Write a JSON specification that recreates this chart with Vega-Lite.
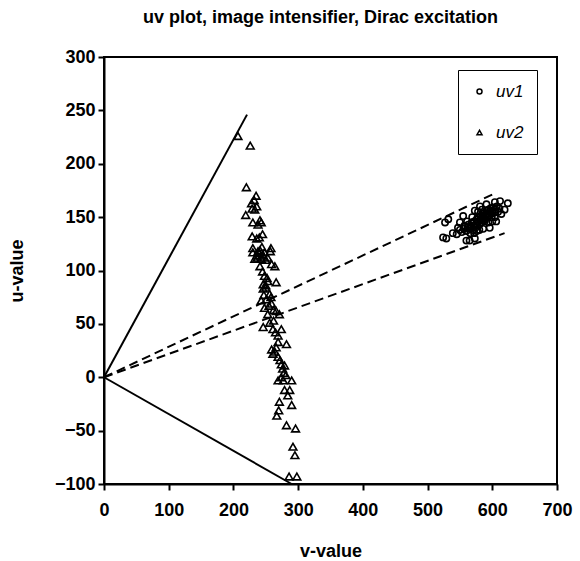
{
  "$schema": "https://vega.github.io/schema/vega-lite/v6.json",
  "width": 453,
  "height": 427,
  "autosize": {"type": "none"},
  "padding": {"left": 104, "top": 57, "right": 23, "bottom": 77},
  "background": "white",
  "config": {
    "view": {"stroke": "black", "strokeWidth": 2},
    "font": "Liberation Sans",
    "axis": {
      "grid": false,
      "domainColor": "black",
      "domainWidth": 2,
      "tickColor": "black",
      "tickWidth": 2,
      "tickSize": 6,
      "labelFont": "Liberation Sans",
      "labelFontSize": 18,
      "labelFontWeight": "bold",
      "labelColor": "black",
      "titleFont": "Liberation Sans",
      "titleFontSize": 18,
      "titleFontWeight": "bold",
      "titleColor": "black"
    },
    "legend": {
      "orient": "none",
      "legendX": 354,
      "legendY": 13,
      "padding": 13,
      "rowPadding": 23,
      "strokeColor": "black",
      "fillColor": "white",
      "symbolSize": 25,
      "symbolStrokeColor": "black",
      "symbolStrokeWidth": 1.5,
      "symbolFillColor": "transparent",
      "labelFont": "Liberation Sans",
      "labelFontSize": 17,
      "labelFontStyle": "italic",
      "labelColor": "black",
      "labelOffset": 8
    }
  },
  "title": {
    "text": "uv plot, image intensifier, Dirac excitation",
    "font": "Liberation Sans",
    "fontSize": 18,
    "fontWeight": "bold",
    "color": "black",
    "anchor": "middle",
    "dx": -10,
    "offset": 21
  },
  "datasets": {
    "solid": [
      {"id": "a", "v": 0, "u": 0},
      {"id": "a", "v": 221, "u": 246},
      {"id": "b", "v": 0, "u": 0},
      {"id": "b", "v": 290, "u": -100}
    ],
    "dashed": [
      {"id": "c", "v": 0, "u": 0},
      {"id": "c", "v": 603, "u": 172},
      {"id": "d", "v": 0, "u": 0},
      {"id": "d", "v": 619, "u": 135}
    ],
    "points": [
      {"series": "uv1", "v": 527, "u": 145},
      {"series": "uv1", "v": 532, "u": 148},
      {"series": "uv1", "v": 524, "u": 131},
      {"series": "uv1", "v": 529, "u": 130},
      {"series": "uv1", "v": 539, "u": 135},
      {"series": "uv1", "v": 545, "u": 134},
      {"series": "uv1", "v": 560, "u": 128},
      {"series": "uv1", "v": 565, "u": 128},
      {"series": "uv1", "v": 573, "u": 130},
      {"series": "uv1", "v": 624, "u": 163},
      {"series": "uv1", "v": 612, "u": 165},
      {"series": "uv1", "v": 604, "u": 164},
      {"series": "uv1", "v": 591, "u": 162},
      {"series": "uv1", "v": 581, "u": 160},
      {"series": "uv1", "v": 573, "u": 156},
      {"series": "uv1", "v": 619, "u": 157},
      {"series": "uv1", "v": 614, "u": 153},
      {"series": "uv1", "v": 606, "u": 146},
      {"series": "uv1", "v": 555, "u": 151},
      {"series": "uv1", "v": 550, "u": 145},
      {"series": "uv1", "v": 547, "u": 140},
      {"series": "uv1", "v": 557, "u": 142},
      {"series": "uv1", "v": 576, "u": 137},
      {"series": "uv1", "v": 586, "u": 139},
      {"series": "uv1", "v": 596, "u": 140},
      {"series": "uv1", "v": 588, "u": 146},
      {"series": "uv1", "v": 599, "u": 150},
      {"series": "uv1", "v": 550, "u": 138},
      {"series": "uv1", "v": 553, "u": 136},
      {"series": "uv1", "v": 556, "u": 139},
      {"series": "uv1", "v": 558, "u": 141},
      {"series": "uv1", "v": 560, "u": 137},
      {"series": "uv1", "v": 562, "u": 140},
      {"series": "uv1", "v": 563, "u": 143},
      {"series": "uv1", "v": 565, "u": 139},
      {"series": "uv1", "v": 567, "u": 141},
      {"series": "uv1", "v": 568, "u": 145},
      {"series": "uv1", "v": 570, "u": 138},
      {"series": "uv1", "v": 571, "u": 142},
      {"series": "uv1", "v": 572, "u": 146},
      {"series": "uv1", "v": 574, "u": 140},
      {"series": "uv1", "v": 575, "u": 144},
      {"series": "uv1", "v": 576, "u": 148},
      {"series": "uv1", "v": 577, "u": 142},
      {"series": "uv1", "v": 578, "u": 146},
      {"series": "uv1", "v": 579, "u": 150},
      {"series": "uv1", "v": 580, "u": 143},
      {"series": "uv1", "v": 581, "u": 147},
      {"series": "uv1", "v": 582, "u": 151},
      {"series": "uv1", "v": 583, "u": 145},
      {"series": "uv1", "v": 584, "u": 149},
      {"series": "uv1", "v": 585, "u": 153},
      {"series": "uv1", "v": 586, "u": 147},
      {"series": "uv1", "v": 587, "u": 150},
      {"series": "uv1", "v": 588, "u": 154},
      {"series": "uv1", "v": 589, "u": 148},
      {"series": "uv1", "v": 590, "u": 152},
      {"series": "uv1", "v": 591, "u": 156},
      {"series": "uv1", "v": 592, "u": 150},
      {"series": "uv1", "v": 593, "u": 153},
      {"series": "uv1", "v": 594, "u": 157},
      {"series": "uv1", "v": 595, "u": 151},
      {"series": "uv1", "v": 596, "u": 155},
      {"series": "uv1", "v": 597, "u": 158},
      {"series": "uv1", "v": 598, "u": 153},
      {"series": "uv1", "v": 600, "u": 156},
      {"series": "uv1", "v": 601, "u": 159},
      {"series": "uv1", "v": 603, "u": 154},
      {"series": "uv1", "v": 605, "u": 157},
      {"series": "uv1", "v": 607, "u": 160},
      {"series": "uv1", "v": 609, "u": 155},
      {"series": "uv1", "v": 611, "u": 158},
      {"series": "uv1", "v": 566, "u": 135},
      {"series": "uv1", "v": 569, "u": 150},
      {"series": "uv1", "v": 561, "u": 146},
      {"series": "uv1", "v": 578, "u": 155},
      {"series": "uv1", "v": 584, "u": 157},
      {"series": "uv1", "v": 600, "u": 146},
      {"series": "uv1", "v": 594, "u": 145},
      {"series": "uv1", "v": 604, "u": 150},
      {"series": "uv1", "v": 580, "u": 138},
      {"series": "uv1", "v": 572, "u": 135},
      {"series": "uv2", "v": 207, "u": 226},
      {"series": "uv2", "v": 226, "u": 217},
      {"series": "uv2", "v": 220, "u": 178},
      {"series": "uv2", "v": 235, "u": 170},
      {"series": "uv2", "v": 228, "u": 163},
      {"series": "uv2", "v": 232, "u": 166},
      {"series": "uv2", "v": 236, "u": 160},
      {"series": "uv2", "v": 229, "u": 158},
      {"series": "uv2", "v": 233, "u": 157},
      {"series": "uv2", "v": 219, "u": 152},
      {"series": "uv2", "v": 230, "u": 145},
      {"series": "uv2", "v": 241, "u": 147},
      {"series": "uv2", "v": 243, "u": 145},
      {"series": "uv2", "v": 238, "u": 143},
      {"series": "uv2", "v": 229, "u": 132},
      {"series": "uv2", "v": 240, "u": 131},
      {"series": "uv2", "v": 245, "u": 134},
      {"series": "uv2", "v": 236, "u": 130},
      {"series": "uv2", "v": 230, "u": 121},
      {"series": "uv2", "v": 244, "u": 122},
      {"series": "uv2", "v": 258, "u": 121},
      {"series": "uv2", "v": 241, "u": 119},
      {"series": "uv2", "v": 230, "u": 117},
      {"series": "uv2", "v": 238, "u": 118},
      {"series": "uv2", "v": 248, "u": 117},
      {"series": "uv2", "v": 257, "u": 118},
      {"series": "uv2", "v": 233, "u": 111},
      {"series": "uv2", "v": 243, "u": 111},
      {"series": "uv2", "v": 253, "u": 112},
      {"series": "uv2", "v": 236, "u": 114},
      {"series": "uv2", "v": 245, "u": 115},
      {"series": "uv2", "v": 241, "u": 104},
      {"series": "uv2", "v": 259, "u": 106},
      {"series": "uv2", "v": 264, "u": 104},
      {"series": "uv2", "v": 237, "u": 112},
      {"series": "uv2", "v": 240, "u": 116},
      {"series": "uv2", "v": 247, "u": 113},
      {"series": "uv2", "v": 250, "u": 110},
      {"series": "uv2", "v": 248, "u": 95},
      {"series": "uv2", "v": 252, "u": 93},
      {"series": "uv2", "v": 245, "u": 99},
      {"series": "uv2", "v": 250, "u": 86},
      {"series": "uv2", "v": 246, "u": 87},
      {"series": "uv2", "v": 253, "u": 90},
      {"series": "uv2", "v": 266, "u": 89},
      {"series": "uv2", "v": 250, "u": 84},
      {"series": "uv2", "v": 246, "u": 83},
      {"series": "uv2", "v": 256, "u": 78},
      {"series": "uv2", "v": 251, "u": 73},
      {"series": "uv2", "v": 243, "u": 72},
      {"series": "uv2", "v": 259, "u": 69},
      {"series": "uv2", "v": 248, "u": 65},
      {"series": "uv2", "v": 266, "u": 62},
      {"series": "uv2", "v": 253, "u": 59},
      {"series": "uv2", "v": 271, "u": 59},
      {"series": "uv2", "v": 262, "u": 63},
      {"series": "uv2", "v": 255, "u": 67},
      {"series": "uv2", "v": 258, "u": 75},
      {"series": "uv2", "v": 247, "u": 77},
      {"series": "uv2", "v": 246, "u": 47},
      {"series": "uv2", "v": 261, "u": 45},
      {"series": "uv2", "v": 274, "u": 45},
      {"series": "uv2", "v": 256, "u": 51},
      {"series": "uv2", "v": 262, "u": 53},
      {"series": "uv2", "v": 269, "u": 39},
      {"series": "uv2", "v": 282, "u": 31},
      {"series": "uv2", "v": 269, "u": 33},
      {"series": "uv2", "v": 265, "u": 42},
      {"series": "uv2", "v": 259, "u": 26},
      {"series": "uv2", "v": 261, "u": 22},
      {"series": "uv2", "v": 269, "u": 19},
      {"series": "uv2", "v": 274, "u": 12},
      {"series": "uv2", "v": 279, "u": 11},
      {"series": "uv2", "v": 264, "u": 24},
      {"series": "uv2", "v": 272, "u": 16},
      {"series": "uv2", "v": 276, "u": 8},
      {"series": "uv2", "v": 266, "u": 28},
      {"series": "uv2", "v": 278, "u": 4},
      {"series": "uv2", "v": 281, "u": 2},
      {"series": "uv2", "v": 274, "u": 0},
      {"series": "uv2", "v": 269, "u": -3},
      {"series": "uv2", "v": 277, "u": -3},
      {"series": "uv2", "v": 290, "u": -3},
      {"series": "uv2", "v": 279, "u": -12},
      {"series": "uv2", "v": 287, "u": -12},
      {"series": "uv2", "v": 284, "u": -17},
      {"series": "uv2", "v": 271, "u": -23},
      {"series": "uv2", "v": 290, "u": -26},
      {"series": "uv2", "v": 270, "u": -31},
      {"series": "uv2", "v": 267, "u": -36},
      {"series": "uv2", "v": 282, "u": -45},
      {"series": "uv2", "v": 296, "u": -48},
      {"series": "uv2", "v": 292, "u": -65},
      {"series": "uv2", "v": 295, "u": -73},
      {"series": "uv2", "v": 286, "u": -93},
      {"series": "uv2", "v": 298, "u": -93}
    ]
  },
  "encoding": {
    "x": {
      "field": "v",
      "type": "quantitative",
      "scale": {"domain": [0, 700], "nice": false, "zero": false},
      "axis": {
        "title": "v-value",
        "values": [0, 100, 200, 300, 400, 500, 600, 700],
        "labelPadding": 11,
        "titlePadding": 23,
        "labelFlush": false,
        "labelOverlap": false
      }
    },
    "y": {
      "field": "u",
      "type": "quantitative",
      "scale": {"domain": [-100, 300], "nice": false, "zero": false},
      "axis": {
        "title": "u-value",
        "values": [-100, -50, 0, 50, 100, 150, 200, 250, 300],
        "labelPadding": 3,
        "titlePadding": 28,
        "labelFlush": false,
        "labelOverlap": false
      }
    }
  },
  "layer": [
    {
      "data": {"name": "solid"},
      "mark": {"type": "line", "color": "black", "strokeWidth": 2},
      "encoding": {"detail": {"field": "id"}}
    },
    {
      "data": {"name": "dashed"},
      "mark": {"type": "line", "color": "black", "strokeWidth": 2, "strokeDash": [9, 5]},
      "encoding": {"detail": {"field": "id"}}
    },
    {
      "data": {"name": "points"},
      "transform": [{"filter": "datum.series === 'uv1'"}],
      "mark": {"type": "point", "filled": false, "color": "black", "strokeWidth": 1.6, "opacity": 1, "size": 40},
      "encoding": {
        "shape": {
          "field": "series",
          "type": "nominal",
          "scale": {"domain": ["uv1", "uv2"], "range": ["circle", "triangle-up"]},
          "legend": {"title": null}
        }
      }
    },
    {
      "data": {"name": "points"},
      "transform": [{"filter": "datum.series === 'uv2'"}],
      "mark": {"type": "point", "filled": false, "color": "black", "strokeWidth": 1.6, "opacity": 1, "size": 60},
      "encoding": {
        "shape": {
          "field": "series",
          "type": "nominal",
          "scale": {"domain": ["uv1", "uv2"], "range": ["circle", "triangle-up"]},
          "legend": {"title": null}
        }
      }
    }
  ]
}
